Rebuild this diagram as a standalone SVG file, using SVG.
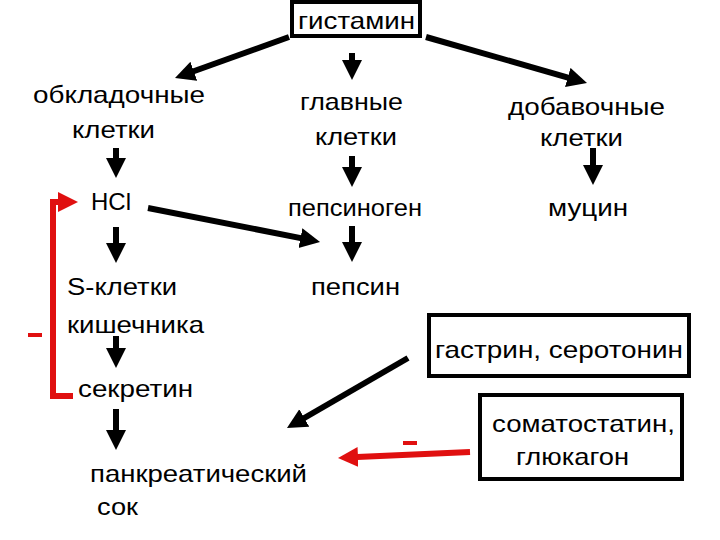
<svg xmlns="http://www.w3.org/2000/svg" width="720" height="540" viewBox="0 0 720 540">
<defs>
<style>
text{font-family:"Liberation Sans",Arial,sans-serif;font-size:24px;fill:#000}
.a{stroke:#000;stroke-width:6;fill:none}
.r{stroke:#e01010;stroke-width:6;fill:none}
.box{fill:#fff;stroke:#000;stroke-width:4}
</style>
<marker id="ah" markerUnits="userSpaceOnUse" markerWidth="22" markerHeight="22" refX="12" refY="10" orient="auto"><path d="M0,0 L20,10 L0,20 z" fill="#000"/></marker>
<marker id="rh" markerUnits="userSpaceOnUse" markerWidth="22" markerHeight="22" refX="12" refY="10" orient="auto"><path d="M0,0 L20,10 L0,20 z" fill="#e01010"/></marker>
</defs>
<rect width="720" height="540" fill="#fff"/>
<g id="connectors">
<line class="a" x1="289" y1="37" x2="182.5" y2="75.3" marker-end="url(#ah)"/>
<line class="a" x1="352" y1="53" x2="352" y2="72" marker-end="url(#ah)"/>
<line class="a" x1="426" y1="37" x2="579.3" y2="80.8" marker-end="url(#ah)"/>
<line class="a" x1="116" y1="148" x2="116" y2="170" marker-end="url(#ah)"/>
<line class="a" x1="352" y1="156" x2="352" y2="179" marker-end="url(#ah)"/>
<line class="a" x1="593" y1="148" x2="593" y2="177" marker-end="url(#ah)"/>
<line class="a" x1="148" y1="208" x2="312.2" y2="240.4" marker-end="url(#ah)"/>
<line class="a" x1="116" y1="227" x2="116" y2="255" marker-end="url(#ah)"/>
<line class="a" x1="352" y1="226" x2="352" y2="254" marker-end="url(#ah)"/>
<line class="a" x1="116" y1="336" x2="116" y2="360" marker-end="url(#ah)"/>
<line class="a" x1="116" y1="409" x2="116" y2="442" marker-end="url(#ah)"/>
<line class="a" x1="408" y1="358" x2="293.9" y2="424" marker-end="url(#ah)"/>
<line class="r" x1="470" y1="452" x2="346" y2="457.6" marker-end="url(#rh)"/>
<path class="r" d="M73,396 H53 V202 H70" marker-end="url(#rh)"/>
<rect x="28" y="333" width="14" height="4" fill="#e01010"/>
<rect x="403" y="441" width="14" height="4" fill="#e01010"/>
</g>
<g id="gistamin"><rect class="box" x="292" y="2" width="128" height="34" stroke-width="3"/><text x="298" y="29" textLength="117" lengthAdjust="spacingAndGlyphs">гистамин</text></g>
<g id="obkladochnye"><text x="33" y="103" textLength="172" lengthAdjust="spacingAndGlyphs">обкладочные</text><text x="72" y="138" textLength="83" lengthAdjust="spacingAndGlyphs">клетки</text></g>
<g id="glavnye"><text x="300" y="110" textLength="103" lengthAdjust="spacingAndGlyphs">главные</text><text x="315" y="145" textLength="82" lengthAdjust="spacingAndGlyphs">клетки</text></g>
<g id="dobavochnye"><text x="508" y="115" textLength="157" lengthAdjust="spacingAndGlyphs">добавочные</text><text x="540" y="146" textLength="83" lengthAdjust="spacingAndGlyphs">клетки</text></g>
<g id="hcl"><text x="91" y="210">HCl</text></g>
<g id="pepsinogen"><text x="288" y="216" textLength="134" lengthAdjust="spacingAndGlyphs">пепсиноген</text></g>
<g id="mucin"><text x="548" y="216" textLength="80" lengthAdjust="spacingAndGlyphs">муцин</text></g>
<g id="s-kletki"><text x="67" y="295" textLength="110" lengthAdjust="spacingAndGlyphs">S-клетки</text><text x="67" y="333" textLength="137" lengthAdjust="spacingAndGlyphs">кишечника</text></g>
<g id="pepsin"><text x="311" y="295" textLength="89" lengthAdjust="spacingAndGlyphs">пепсин</text></g>
<g id="gastrin"><rect class="box" x="429" y="315" width="260" height="61"/><text x="435" y="358" textLength="248" lengthAdjust="spacingAndGlyphs">гастрин, серотонин</text></g>
<g id="sekretin"><text x="78" y="397" textLength="115" lengthAdjust="spacingAndGlyphs">секретин</text></g>
<g id="somatostatin"><rect class="box" x="480" y="395" width="202" height="84"/><text x="492" y="432" textLength="183" lengthAdjust="spacingAndGlyphs">соматостатин,</text><text x="516" y="465" textLength="113" lengthAdjust="spacingAndGlyphs">глюкагон</text></g>
<g id="pankreat"><text x="90" y="482" textLength="217" lengthAdjust="spacingAndGlyphs">панкреатический</text><text x="97" y="515" textLength="41" lengthAdjust="spacingAndGlyphs">сок</text></g>
</svg>
